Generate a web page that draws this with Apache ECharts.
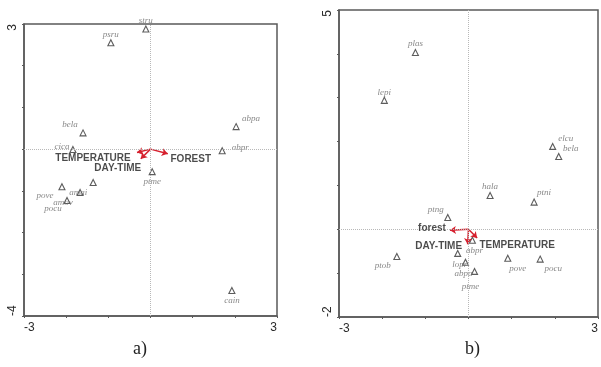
<!DOCTYPE html>
<html>
<head>
<meta charset="utf-8">
<script src="https://cdn.jsdelivr.net/npm/echarts@6/dist/echarts.min.js"></script>
<style>
  html, body { margin: 0; padding: 0; background: #fff; }
  #chart { width: 601px; height: 367px; }
</style>
</head>
<body>
<div id="chart"></div>
<script>
// Panel a) species scores
const A_NAMES = ['stru', 'psru', 'bela', 'cica', 'abpa', 'abpr', 'ptme', 'cain', 'pove', 'amai', 'amov', 'pocu'];
const A_X = [-0.11, -0.94, -1.60, -1.84, 2.03, 1.70, 0.04, 1.93, -2.10, -1.36, -1.67, -1.98];
const A_Y = [2.88, 2.55, 0.39, -0.01, 0.54, -0.04, -0.54, -3.39, -0.90, -0.80, -1.04, -1.23];
// Panel a) environmental vectors
const A_VEC_NAMES = ['TEMPERATURE', 'DAY-TIME', 'FOREST'];
const A_VEC_X = [-0.32, -0.23, 0.41];
const A_VEC_Y = [-0.08, -0.23, -0.11];
const A_X_RANGE = [-3, 3];
const A_Y_RANGE = [-4, 3];

// Panel b) species scores
const B_NAMES = ['plas', 'lepi', 'elcu', 'bela', 'ptni', 'hala', 'ptng', 'abpr', 'ptob', 'lopr', 'abpa', 'ptme', 'pove', 'pocu'];
const B_X = [-1.23, -1.95, 1.95, 2.09, 1.52, 0.50, -0.48, 0.09, -1.66, -0.25, -0.07, 0.14, 0.91, 1.66];
const B_Y = [4.03, 2.94, 1.89, 1.66, 0.62, 0.77, 0.27, -0.25, -0.62, -0.55, -0.75, -0.96, -0.66, -0.68];
// Panel b) environmental vectors
const B_VEC_NAMES = ['forest', 'DAY-TIME', 'TEMPERATURE'];
const B_VEC_X = [-0.43, -0.02, 0.20];
const B_VEC_Y = [-0.02, -0.34, -0.20];
const B_X_RANGE = [-3, 3];
const B_Y_RANGE = [-2, 5];

const CAPTIONS = ['a)', 'b)'];

// Label placement (pixel offsets from each mark)
const A_LABEL_OFFSET = {
  stru: [0, -8], psru: [0, -8], bela: [-13, -8], cica: [-11, -3], abpa: [15, -8], abpr: [18, -3],
  ptme: [0, 10], cain: [0, 10], pove: [-17, 9], amai: [-15, 10], amov: [-17, 10], pocu: [-14, 8]
};
const B_LABEL_OFFSET = {
  plas: [0, -9], lepi: [0, -8], elcu: [13, -8], bela: [12, -8], ptni: [10, -9], hala: [0, -9],
  ptng: [-12, -8], abpr: [2, 10], ptob: [-14, 9], lopr: [2, 11], abpa: [-2, 11], ptme: [-4, 15],
  pove: [10, 10], pocu: [13, 10]
};
const A_VEC_OFFSET = [[-44, 6], [-23, 10], [23, 6]];
const B_VEC_OFFSET = [[-18, -2], [-29, 2], [40, 7]];

const RED = '#d6202e';
const AXIS_COLOR = '#5a5a5a';

function xAxisFor(idx, range) {
  return {
    type: 'value', gridIndex: idx, min: range[0], max: range[1], interval: 1,
    axisLine: { show: true, onZero: false, lineStyle: { color: AXIS_COLOR, width: 1.5 } },
    axisTick: { show: true, length: 2, lineStyle: { color: AXIS_COLOR } },
    splitLine: { show: false },
    axisLabel: {
      margin: 6, color: '#2a2a2a', fontSize: 12, fontFamily: 'Liberation Sans',
      showMinLabel: true, showMaxLabel: true,
      alignMinLabel: 'left', alignMaxLabel: 'right',
      formatter: v => (v === range[0] || v === range[1]) ? String(v) : ''
    }
  };
}
function yAxisFor(idx, range) {
  return {
    type: 'value', gridIndex: idx, min: range[0], max: range[1], interval: 1,
    axisLine: { show: true, onZero: false, lineStyle: { color: AXIS_COLOR, width: 1.5 } },
    axisTick: { show: true, length: 2, lineStyle: { color: AXIS_COLOR } },
    splitLine: { show: false },
    axisLabel: {
      margin: 5, color: '#2a2a2a', fontSize: 12, fontFamily: 'Liberation Sans', rotate: 90,
      showMinLabel: true, showMaxLabel: true,
      alignMinLabel: 'left', alignMaxLabel: 'right',
      formatter: v => (v === range[0] || v === range[1]) ? String(v) : ''
    }
  };
}

function speciesSeries(idx, names, xs, ys, offsets) {
  return {
    type: 'scatter', xAxisIndex: idx, yAxisIndex: idx, z: 3,
    symbol: 'triangle', symbolSize: 6,
    itemStyle: { color: '#fff', borderColor: '#333', borderWidth: 1.1 },
    label: {
      show: true, position: 'inside', formatter: p => p.name,
      fontFamily: 'Liberation Serif', fontStyle: 'italic', fontSize: 9, color: '#6a6a6a'
    },
    data: names.map((n, i) => ({ name: n, value: [xs[i], ys[i]], label: { offset: offsets[n] } })),
    markLine: {
      silent: true, symbol: ['none', 'none'], animation: false,
      label: { show: false },
      lineStyle: { type: 'dotted', color: '#b8b8b8', width: 1 },
      data: [{ xAxis: 0 }, { yAxis: 0 }]
    }
  };
}

function vectorSeries(idx, xs, ys) {
  return {
    type: 'lines', coordinateSystem: 'cartesian2d', xAxisIndex: idx, yAxisIndex: idx, z: 4,
    symbol: ['none', 'arrow'], symbolSize: 6,
    lineStyle: { color: RED, width: 1.5, opacity: 1 },
    data: xs.map((x, i) => ({ coords: [[0, 0], [x, ys[i]]] }))
  };
}

// Vector names sit on invisible points at the arrow tips
function vectorLabelSeries(idx, names, xs, ys, offsets) {
  return {
    type: 'scatter', xAxisIndex: idx, yAxisIndex: idx, z: 5,
    symbol: 'circle', symbolSize: 1, silent: true,
    itemStyle: { color: 'rgba(0,0,0,0)' },
    label: {
      show: true, position: 'inside', formatter: p => p.name,
      fontFamily: 'Liberation Sans', fontWeight: 'bold', fontSize: 10, color: '#1e1e1e'
    },
    data: names.map((n, i) => ({ name: n, value: [xs[i], ys[i]], label: { offset: offsets[i] } }))
  };
}

const chart = echarts.init(document.getElementById('chart'));
chart.setOption({
  animation: false,
  backgroundColor: '#fff',
  grid: [
    { left: 24, top: 24, width: 253, height: 292, show: true, borderColor: AXIS_COLOR, borderWidth: 1.5, backgroundColor: 'transparent' },
    { left: 339, top: 10, width: 264, height: 307, show: true, borderColor: AXIS_COLOR, borderWidth: 1.5, backgroundColor: 'transparent' }
  ],
  xAxis: [xAxisFor(0, A_X_RANGE), xAxisFor(1, B_X_RANGE)],
  yAxis: [yAxisFor(0, A_Y_RANGE), yAxisFor(1, B_Y_RANGE)],
  graphic: [
    { type: 'text', left: 133, top: 340, style: { text: CAPTIONS[0], font: '18px "Liberation Serif"', fill: '#222' } },
    { type: 'text', left: 465, top: 340, style: { text: CAPTIONS[1], font: '18px "Liberation Serif"', fill: '#222' } }
  ],
  series: [
    speciesSeries(0, A_NAMES, A_X, A_Y, A_LABEL_OFFSET),
    vectorSeries(0, A_VEC_X, A_VEC_Y),
    vectorLabelSeries(0, A_VEC_NAMES, A_VEC_X, A_VEC_Y, A_VEC_OFFSET),
    speciesSeries(1, B_NAMES, B_X, B_Y, B_LABEL_OFFSET),
    vectorSeries(1, B_VEC_X, B_VEC_Y),
    vectorLabelSeries(1, B_VEC_NAMES, B_VEC_X, B_VEC_Y, B_VEC_OFFSET)
  ]
});
</script>
</body>
</html>
